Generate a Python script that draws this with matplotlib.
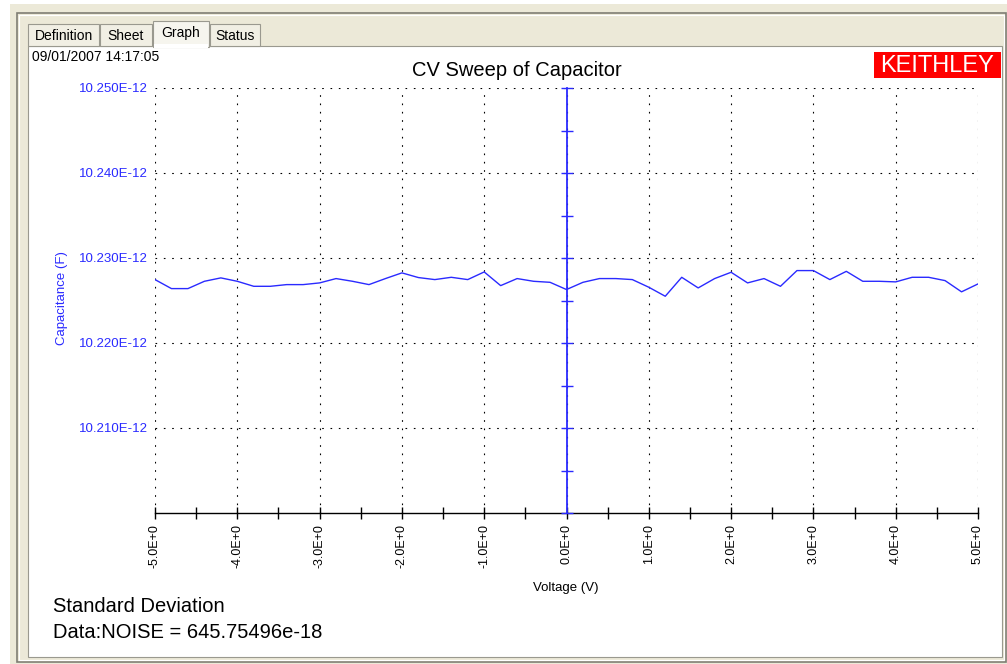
import matplotlib
matplotlib.use("Agg")
import matplotlib.pyplot as plt
from matplotlib.patches import Rectangle
from matplotlib.ticker import MultipleLocator, FuncFormatter

# sweep data (capacitance in pF)
voltage = [-5.0, -4.8, -4.6, -4.4, -4.2, -4.0, -3.8, -3.6, -3.4, -3.2,
           -3.0, -2.8, -2.6, -2.4, -2.2, -2.0, -1.8, -1.6, -1.4, -1.2,
           -1.0, -0.8, -0.6, -0.4, -0.2, 0.0, 0.2, 0.4, 0.6, 0.8,
           1.0, 1.2, 1.4, 1.6, 1.8, 2.0, 2.2, 2.4, 2.6, 2.8,
           3.0, 3.2, 3.4, 3.6, 3.8, 4.0, 4.2, 4.4, 4.6, 4.8, 5.0]
capacitance_pF = [10.22746, 10.22640, 10.22640, 10.22726, 10.22766, 10.22726, 10.22667, 10.22667, 10.22687, 10.22687,
                  10.22707, 10.22758, 10.22726, 10.22687, 10.22758, 10.22825, 10.22770, 10.22746, 10.22773, 10.22746,
                  10.22836, 10.22675, 10.22758, 10.22726, 10.22714, 10.22629, 10.22714, 10.22758, 10.22758, 10.22746,
                  10.22656, 10.22550, 10.22773, 10.22648, 10.22758, 10.22832, 10.22707, 10.22758, 10.22667, 10.22852,
                  10.22852, 10.22746, 10.22843, 10.22726, 10.22726, 10.22719, 10.22773, 10.22773, 10.22734, 10.22602, 10.22695]
ytick_vals = [10.21, 10.22, 10.23, 10.24, 10.25]
tabs = ["Definition", "Sheet", "Graph", "Status"]
title = "CV Sweep of Capacitor"
stamp = "09/01/2007 14:17:05"
stats = ["Standard Deviation", "Data:NOISE = 645.75496e-18"]

plt.rcParams["font.family"] = ["Liberation Sans", "DejaVu Sans"]

W, H = 1007, 664
BLUE = "#2a2aff"
fig = plt.figure(figsize=(W / 100, H / 100), dpi=100, facecolor="#ECE9D8")


def box(x0, y0, x1, y1, **kw):
    # rectangle in pixel coords measured from the top-left corner
    kw.setdefault("zorder", -5)
    fig.add_artist(Rectangle((x0 / W, 1 - y1 / H), (x1 - x0) / W, (y1 - y0) / H,
                             transform=fig.transFigure, **kw))


def ftext(x, y, s, **kw):
    fig.text(x / W, 1 - y / H, s, **kw)


# window chrome
box(0, 0, W, 4, fc="white", ec="none")
box(0, 0, 10, H, fc="white", ec="none")
box(17, 13, 1006, 662, fc="none", ec="#7f7d74", lw=1.2)
box(19, 15, 1004, 660, fc="none", ec="white", lw=0.8)
box(28, 46, 1002, 657, fc="white", ec="#9a998f", lw=0.8)
tab_edges = [(28, 99), (100, 152), (153, 209), (210, 260)]
for name, (x0, x1) in zip(tabs, tab_edges):
    sel = name == "Graph"
    top = 21 if sel else 24
    box(x0, top, x1, 47 if sel else 46, fc="#F6F5EE" if sel else "#F1EFE4",
        ec="#9a998f", lw=0.8, zorder=-4)
    ftext((x0 + x1) / 2, top + 12, name, ha="center", va="center", fontsize=10)
box(154, 44, 208, 48, fc="white", ec="none", zorder=-3)

ftext(32, 57, stamp, va="center", fontsize=10)
box(874, 52, 1001, 78, fc="#FF0000", ec="none", zorder=-2)
ftext(937, 65.5, "KEITHLEY", color="white", ha="center", va="center", fontsize=17)
ftext(517, 70, title, ha="center", va="center", fontsize=14.5)

ax = fig.add_axes([155 / W, 1 - 513 / H, (978 - 155) / W, (513 - 88) / H])
ax.set_facecolor("none")
ax.plot(voltage, capacitance_pF, color=BLUE, lw=1.0, zorder=3)
ax.set_xlim(-5, 5)
ax.set_ylim(10.200, 10.250)
for s in ["top", "right", "left"]:
    ax.spines[s].set_visible(False)
ax.spines["bottom"].set_color("black")
ax.spines["bottom"].set_linewidth(1)

ax.xaxis.set_major_locator(MultipleLocator(1))
ax.xaxis.set_minor_locator(MultipleLocator(0.5))
ax.xaxis.set_major_formatter(FuncFormatter(lambda v, p: f"{round(v, 1) + 0.0:.1f}E+0"))
ax.tick_params(axis="x", which="both", direction="inout", length=8, width=1, color="black")
ax.tick_params(axis="x", which="major", labelrotation=90, labelsize=9, pad=4)

ax.set_yticks(ytick_vals)
ax.yaxis.set_major_formatter(FuncFormatter(lambda v, p: f"{v:.3f}E-12"))
ax.tick_params(axis="y", length=0, labelsize=9.5, labelcolor=BLUE, pad=5)
ax.grid(True, which="major", color="black", ls=(0, (1.5, 6)), lw=0.8)

# the blue zero line with its own tick marks
ax2 = ax.twinx()
ax2.set_ylim(ax.get_ylim())
for s in ["top", "left", "bottom"]:
    ax2.spines[s].set_visible(False)
ax2.spines["right"].set_position(("data", 0))
ax2.spines["right"].set_color(BLUE)
ax2.spines["right"].set_linewidth(1.3)
ax2.yaxis.set_major_locator(MultipleLocator(0.005))
ax2.tick_params(axis="y", direction="inout", length=8, width=1, color=BLUE, labelright=False)

ftext(566, 588, "Voltage (V)", ha="center", va="center", fontsize=9.5)
ftext(62, 298, "Capacitance (F)", ha="center", va="center", rotation=90, fontsize=9.5, color=BLUE)
ftext(53, 607, stats[0], va="center", fontsize=14.5)
ftext(53, 632, stats[1], va="center", fontsize=14.5)

fig.savefig("out.png", dpi=100, facecolor=fig.get_facecolor())
